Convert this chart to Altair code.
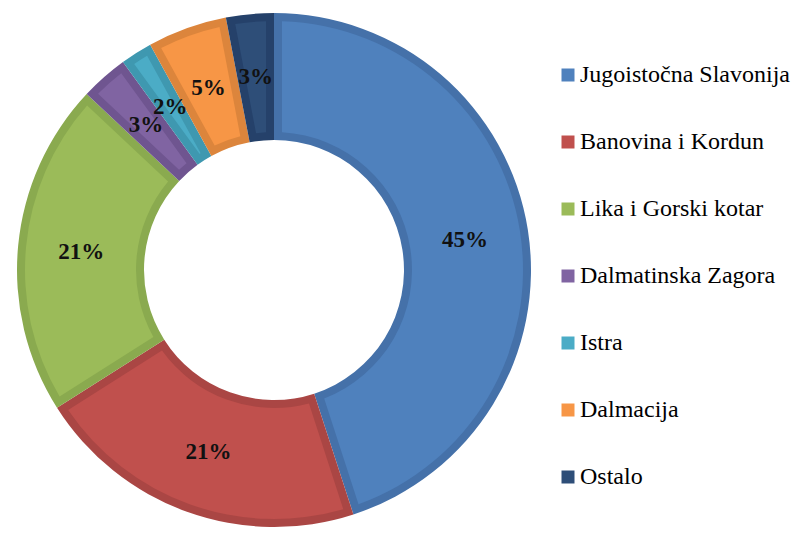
import altair as alt
import pandas as pd
import math

regions = ["Jugoistočna Slavonija", "Banovina i Kordun", "Lika i Gorski kotar",
           "Dalmatinska Zagora", "Istra", "Dalmacija", "Ostalo"]
values = [45, 21, 21, 3, 2, 5, 3]
fill_colors = ["#4F81BD", "#C0504D", "#9BBB59", "#8064A2", "#4BACC6", "#F79646", "#2E4E78"]
border_colors = ["#4571A9", "#AA4644", "#8AAA4F", "#6F5590", "#3F98B0", "#DC853C", "#25416A"]

df = pd.DataFrame({
    "region": regions,
    "value": values,
    "label": [f"{v}%" for v in values],
    "dark": border_colors,
    "idx": list(range(len(regions))),
})

CX, CY = 266, 262
R_OUT, R_IN = 257, 130
BAND = 8
pad_r = math.sqrt((R_OUT - BAND) ** 2 + (R_IN + BAND) ** 2)
pad_angle = 2 * math.asin(BAND / pad_r)

SERIF = "Liberation Serif, Times New Roman, serif"

base = alt.Chart(df).encode(
    theta=alt.Theta("value:Q", stack=True),
    order=alt.Order("idx:Q", sort="ascending"),
    x=alt.value(CX),
    y=alt.value(CY),
)

outer = base.mark_arc(radius=R_OUT, radius2=R_IN).encode(
    fill=alt.Fill("dark:N", scale=None, legend=None)
)

inner = base.mark_arc(radius=R_OUT - BAND, radius2=R_IN + BAND, padAngle=pad_angle).encode(
    color=alt.Color(
        "region:N",
        scale=alt.Scale(domain=regions, range=fill_colors),
        sort=regions,
        legend=alt.Legend(
            title=None,
            orient="none",
            legendX=548,
            legendY=55,
            padding=0,
            symbolType="square",
            symbolSize=169,
            symbolStrokeWidth=0,
            symbolOpacity=1,
            labelFont=SERIF,
            labelFontSize=24,
            labelColor="#000000",
            labelOffset=0,
            rowPadding=43,
            labelLimit=400,
        ),
    )
)

text = base.mark_text(
    radius=(R_OUT + R_IN) / 2,
    font=SERIF,
    fontSize=23,
    fontWeight="bold",
    color="#111111",
    baseline="middle",
    align="center",
).encode(
    text="label:N",
    detail="region:N",
)

chart = alt.layer(outer, inner, text).properties(
    width=783,
    height=519,
    padding=0,
    autosize=alt.AutoSizeParams(type="none"),
).configure(
    background="white",
    view=alt.ViewConfig(stroke=None),
    legend=alt.LegendConfig(labelFont=SERIF, padding=0),
)

chart.save("out.html", embed_options={"renderer": "svg", "actions": False})
